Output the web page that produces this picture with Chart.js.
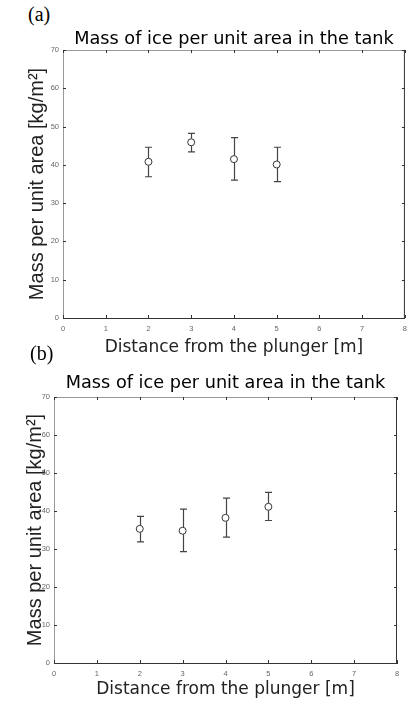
<!DOCTYPE html>
<html lang="en">
<head>
  <meta charset="UTF-8">
  <title>Mass of ice per unit area in the tank</title>
  <script src="https://cdn.jsdelivr.net/npm/chart.js@4.4.1/dist/chart.umd.min.js"></script>
  <style>
    body { margin: 0; background: #fff; width: 413px; height: 702px; overflow: hidden; position: relative; }
    .panel-label { position: absolute; font-family: "Liberation Serif", serif; font-size: 20px; color: #000; }
    .chart-box { position: absolute; left: 0; width: 413px; }
  </style>
</head>
<body>
  <div class="panel-label" style="left:28px; top:3px;">(a)</div>
  <div class="chart-box" style="top:28px; height:330px;"><canvas id="chartA"></canvas></div>
  <div class="panel-label" style="left:30px; top:342px;">(b)</div>
  <div class="chart-box" style="top:372px; height:328px;"><canvas id="chartB"></canvas></div>

  <script>
    // data
    const distances = [2, 3, 4, 5];

    // (a)
    const massA = [40.8, 45.9, 41.5, 40.1];
    const upperA = [44.6, 48.2, 47.1, 44.6];
    const lowerA = [36.9, 43.4, 36.0, 35.6];

    // (b)
    const massB = [35.3, 34.8, 38.2, 41.1];
    const upperB = [38.6, 40.5, 43.4, 44.9];
    const lowerB = [31.9, 29.3, 33.1, 37.5];

    const titleText = 'Mass of ice per unit area in the tank';
    const xTitle = 'Distance from the plunger [m]';
    const yTitle = 'Mass per unit area [kg/m²]';

    const gothic = '"DejaVu Sans", sans-serif';
    const helv = '"Liberation Sans", Arial, sans-serif';

    // error bars drawn with the chart's own scales
    const errorBars = {
      id: 'errorBars',
      afterDatasetsDraw(chart) {
        const ctx = chart.ctx;
        const xs = chart.scales.x, ys = chart.scales.y;
        ctx.save();
        ctx.strokeStyle = '#444';
        ctx.lineWidth = 1.2;
        chart.data.datasets[0].data.forEach(p => {
          const px = Math.round(xs.getPixelForValue(p.x)) + 0.5;
          const top = ys.getPixelForValue(p.yMax);
          const bot = ys.getPixelForValue(p.yMin);
          const cy = ys.getPixelForValue(p.y);
          ctx.beginPath();
          ctx.moveTo(px, top); ctx.lineTo(px, cy - 3.5);
          ctx.moveTo(px, cy + 3.5); ctx.lineTo(px, bot);
          ctx.moveTo(px - 3.5, top); ctx.lineTo(px + 3.5, top);
          ctx.moveTo(px - 3.5, bot); ctx.lineTo(px + 3.5, bot);
          ctx.stroke();
        });
        ctx.restore();
      }
    };

    // matlab-like box with inward ticks on all sides
    const boxTicks = {
      id: 'boxTicks',
      afterDraw(chart) {
        const ctx = chart.ctx;
        const a = chart.chartArea;
        const xs = chart.scales.x, ys = chart.scales.y;
        ctx.save();
        ctx.lineWidth = 1;
        ctx.strokeStyle = '#999';
        ctx.beginPath();
        ctx.moveTo(a.left, a.top + 0.5); ctx.lineTo(a.right, a.top + 0.5);
        ctx.stroke();
        ctx.strokeStyle = '#333';
        ctx.beginPath();
        ctx.moveTo(a.right - 0.5, a.top); ctx.lineTo(a.right - 0.5, a.bottom);
        xs.ticks.forEach(t => {
          const px = Math.round(xs.getPixelForValue(t.value)) + 0.5;
          ctx.moveTo(px, a.bottom); ctx.lineTo(px, a.bottom - 3);
          ctx.moveTo(px, a.top); ctx.lineTo(px, a.top + 3);
        });
        ys.ticks.forEach(t => {
          const py = Math.round(ys.getPixelForValue(t.value)) + 0.5;
          ctx.moveTo(a.left, py); ctx.lineTo(a.left + 3, py);
          ctx.moveTo(a.right, py); ctx.lineTo(a.right - 3, py);
        });
        ctx.stroke();
        ctx.restore();
      }
    };

    function makeChart(id, mass, upper, lower, box) {
      const points = distances.map((d, i) => ({ x: d, y: mass[i], yMax: upper[i], yMin: lower[i] }));
      return new Chart(document.getElementById(id), {
        type: 'scatter',
        data: {
          datasets: [{
            data: points,
            pointStyle: 'circle',
            pointRadius: 3.5,
            pointBorderWidth: 1,
            pointBorderColor: '#333',
            pointBackgroundColor: 'rgba(0,0,0,0)'
          }]
        },
        options: {
          responsive: true,
          maintainAspectRatio: false,
          animation: false,
          layout: { padding: { left: 0, right: box.right, top: 0, bottom: 0 } },
          plugins: {
            legend: { display: false },
            tooltip: { enabled: false }
          },
          scales: {
            x: {
              type: 'linear',
              min: 0,
              max: 8,
              afterFit(s) { s.height = box.xHeight; },
              ticks: { stepSize: 1, color: '#666', font: { family: helv, size: 7.5 }, padding: 6 },
              grid: { display: false, drawTicks: false },
              border: { color: '#333' },
              title: {
                display: true,
                text: xTitle,
                color: '#222',
                font: { family: gothic, size: 17 },
                padding: { top: 0, bottom: 0 }
              }
            },
            // top axis only carries the chart title, centred over the plot
            x2: {
              type: 'linear',
              position: 'top',
              min: 0,
              max: 8,
              afterFit(s) { s.height = box.topHeight; },
              ticks: { display: false },
              grid: { display: false, drawTicks: false },
              border: { display: false },
              title: {
                display: true,
                text: titleText,
                color: '#000',
                font: { family: gothic, size: 17.7 },
                padding: { top: box.titlePad, bottom: 0 }
              }
            },
            y: {
              min: 0,
              max: 70,
              afterFit(s) { s.width = box.yWidth; },
              ticks: { stepSize: 10, color: '#666', font: { family: helv, size: 7.5 }, padding: 4 },
              grid: { display: false, drawTicks: false },
              border: { color: '#999' },
              title: {
                display: true,
                text: yTitle,
                color: '#222',
                font: { family: helv, size: 20 },
                padding: { top: box.yTitleOffset, bottom: 0 }
              }
            }
          }
        },
        plugins: [errorBars, boxTicks]
      });
    }

    makeChart('chartA', massA, upperA, lowerA, { right: 7, yWidth: 63, xHeight: 40, topHeight: 22, titlePad: 1, yTitleOffset: 25 });
    makeChart('chartB', massB, upperB, lowerB, { right: 16, yWidth: 54, xHeight: 37, topHeight: 25, titlePad: 0.4, yTitleOffset: 23 });
  </script>
</body>
</html>
